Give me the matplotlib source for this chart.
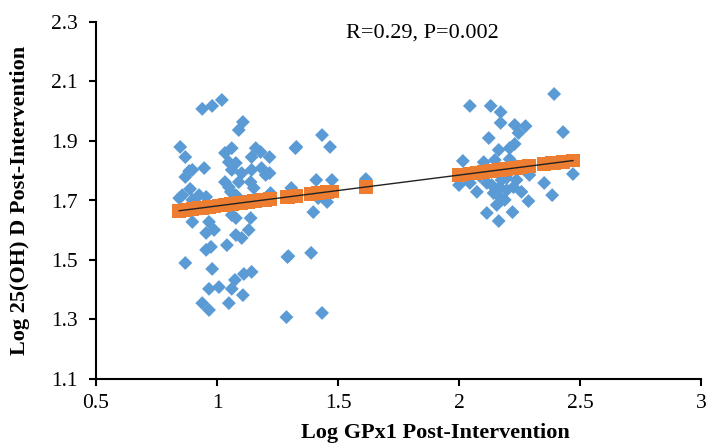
import matplotlib
matplotlib.use("Agg")
import matplotlib.pyplot as plt
import numpy as np

# ---- data ----
x_left = [0.939, 0.980, 1.020, 1.107, 1.090, 0.848, 0.869, 1.033, 1.061, 1.160,
          1.180, 1.217, 1.143, 0.947, 0.885, 0.869, 0.898, 1.049, 1.078, 1.061,
          1.102, 1.090, 1.143, 1.184, 1.201, 1.139, 1.152, 1.033, 1.049, 0.889,
          0.844, 0.857, 0.926, 0.955, 0.898, 1.057, 1.078, 1.221, 1.307, 1.324,
          0.898, 0.967, 1.061, 1.078, 1.139, 0.955, 0.988, 1.078, 1.102, 1.131,
          1.041, 0.955, 0.975, 0.869, 0.980, 1.291, 0.967, 1.008, 1.061, 1.074,
          1.111, 1.143, 1.107, 0.939, 0.967, 1.049, 1.287]
y_left = [2.008, 2.018, 2.038, 1.964, 1.937, 1.880, 1.846, 1.860, 1.876, 1.876,
          1.863, 1.846, 1.846, 1.809, 1.799, 1.779, 1.803, 1.829, 1.826, 1.803,
          1.792, 1.762, 1.803, 1.809, 1.786, 1.762, 1.742, 1.762, 1.745, 1.739,
          1.708, 1.718, 1.718, 1.712, 1.702, 1.729, 1.718, 1.725, 1.742, 1.876,
          1.628, 1.628, 1.651, 1.641, 1.641, 1.591, 1.601, 1.584, 1.574, 1.601,
          1.550, 1.534, 1.544, 1.490, 1.470, 1.510, 1.403, 1.409, 1.403, 1.433,
          1.453, 1.460, 1.382, 1.355, 1.332, 1.355, 1.308]

x_mid = [1.434, 1.328, 1.467, 1.217, 1.410, 1.475, 1.615, 1.418, 1.455, 1.398,
         1.295, 1.389, 1.434]
y_mid = [1.920, 1.880, 1.880, 1.792, 1.769, 1.769, 1.772, 1.708, 1.695, 1.661,
         1.513, 1.524, 1.322]

x_right = [2.393, 2.045, 2.131, 2.172, 2.172, 2.230, 2.275, 2.246, 2.430, 2.123,
           2.164, 2.209, 2.230, 2.209, 2.102, 2.148, 2.291, 2.352, 2.471, 2.045,
           2.074, 2.168, 2.197, 2.143, 2.225, 2.168, 2.156, 2.287, 2.385, 2.115,
           2.221, 2.164, 2.000, 2.016, 2.086, 2.197, 2.176, 2.135, 2.238, 2.258,
           2.115, 2.189]
y_right = [2.058, 2.018, 2.018, 1.997, 1.961, 1.954, 1.950, 1.927, 1.930, 1.910,
           1.870, 1.876, 1.890, 1.839, 1.829, 1.836, 1.786, 1.759, 1.789, 1.759,
           1.729, 1.745, 1.735, 1.725, 1.745, 1.712, 1.685, 1.698, 1.718, 1.658,
           1.661, 1.631, 1.752, 1.833, 1.782, 1.776, 1.769, 1.752, 1.769, 1.729,
           1.759, 1.702]

trend_intercept = 1.578
trend_slope = 0.1037
annotation = "R=0.29, P=0.002"
x_label = "Log GPx1 Post-Intervention"
y_label = "Log 25(OH) D Post-Intervention"
x_ticks = [0.5, 1, 1.5, 2, 2.5, 3]
x_tick_labels = ["0.5", "1", "1.5", "2", "2.5", "3"]
y_ticks = [1.1, 1.3, 1.5, 1.7, 1.9, 2.1, 2.3]
y_tick_labels = ["1.1", "1.3", "1.5", "1.7", "1.9", "2.1", "2.3"]

# ---- plot ----
plt.rcParams['font.family'] = ['Liberation Serif', 'DejaVu Serif']

x_all = np.array(x_left + x_mid + x_right)
y_all = np.array(y_left + y_mid + y_right)
y_pred = trend_intercept + trend_slope * x_all

fig = plt.figure(figsize=(7.07, 4.43), dpi=100)
ax = fig.add_axes([96/707, 64/443, 605/707, 357/443])

ax.scatter(x_all, y_all, marker='D', s=50, color='#5B9BD5', edgecolors='none', zorder=2)
ax.scatter(x_all, y_pred, marker='s', s=95, color='#ED7D31', edgecolors='none', zorder=3)
xl = np.array([x_all.min(), x_all.max()])
ax.plot(xl, trend_intercept + trend_slope * xl, color='#222222', lw=1.0, zorder=4)

ax.set_xlim(0.5, 3)
ax.set_ylim(1.1, 2.3)
ax.set_xticks(x_ticks)
ax.set_xticklabels(x_tick_labels)
ax.set_yticks(y_ticks)
ax.set_yticklabels(y_tick_labels)
ax.tick_params(axis='both', labelsize=15.5, width=1.5, length=5, color='black', direction='out')
ax.tick_params(axis='y', pad=8)
ax.tick_params(axis='x', pad=6)
for s in ['top', 'right']:
    ax.spines[s].set_visible(False)
for s in ['left', 'bottom']:
    ax.spines[s].set_linewidth(1.5)
    ax.spines[s].set_color('black')

ax.set_xlabel(x_label, fontsize=16, fontweight='bold')
ax.set_ylabel(y_label, fontsize=16, fontweight='bold')
ax.xaxis.set_label_coords((435-96)/605, (379-443)/357)
ax.xaxis.label.set_va('bottom')
ax.yaxis.set_label_coords((20-96)/605, 0.5)
ax.yaxis.label.set_va('center')

ax.text(1.848, 2.263, annotation, fontsize=16, ha='center', va='center')

fig.savefig('out.png', dpi=100)
